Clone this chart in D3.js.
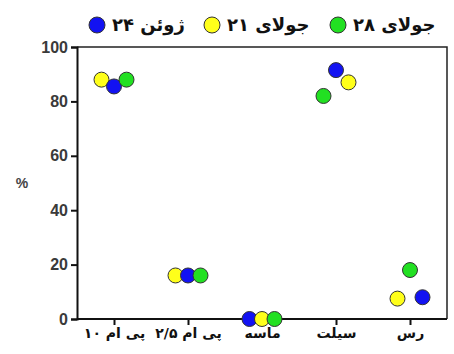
<!DOCTYPE html>
<html><head><meta charset="utf-8">
<script src="https://cdn.jsdelivr.net/npm/d3@7"></script>
<style>body{margin:0;background:#fff;}</style>
</head><body>
<svg id="c" width="454" height="354"></svg>
<script>
const categories = ["پی ام ۱۰", "پی ام ۲/۵", "ماسه", "سیلت", "رس"];
const seriesNames = ["ژوئن ۲۴", "جولای ۲۱", "جولای ۲۸"];
const june24 = [85.5, 16, 0, 91.5, 8];
const july21 = [88, 16, 0, 87, 7.5];
const july28 = [88, 16, 0, 82, 18];
// horizontal slot (left, middle, right) each series occupies within a category
const june24Slot = [1, 1, 0, 1, 2];
const july21Slot = [0, 0, 1, 2, 0];
const july28Slot = [2, 2, 2, 0, 1];
const yTicks = [0, 20, 40, 60, 80, 100];
const colors = ["#1212f2", "#ffff1a", "#22e022"];

const svg = d3.select("#c");
const L = 77, R = 447, T = 47, B = 319;
const x = d3.scalePoint().domain(categories).range([L, R]).padding(0.5);
const slot = d3.scalePoint().domain([0, 1, 2]).range([-12.5, 12.5]);
const y = d3.scaleLinear().domain([0, 100]).range([B, T]);

svg.append("path").attr("d", `M${L},${T}H${R}V${B}`).attr("fill", "none").attr("stroke", "#222").attr("stroke-width", 1.5);

const yAxis = svg.append("g").attr("transform", `translate(${L},0)`)
  .call(d3.axisLeft(y).tickValues(yTicks).tickSize(6).tickPadding(3));
yAxis.select(".domain").attr("stroke", "#111").attr("stroke-width", 2);
yAxis.selectAll(".tick line").attr("stroke", "#111").attr("stroke-width", 2);
yAxis.selectAll("text").attr("font-family", "Liberation Sans, Arial, sans-serif")
  .attr("font-weight", "bold").attr("font-size", 16).attr("fill", "#3a3a3a");

const xAxis = svg.append("g").attr("transform", `translate(0,${B})`)
  .call(d3.axisBottom(x).tickSize(6).tickPadding(3));
xAxis.select(".domain").attr("stroke", "#111").attr("stroke-width", 2)
  .attr("d", `M${L},0H${R}`);
xAxis.selectAll(".tick line").attr("stroke", "#111").attr("stroke-width", 2);
xAxis.selectAll("text").attr("font-family", "DejaVu Sans, sans-serif")
  .attr("font-weight", "bold").attr("font-size", 14).attr("fill", "#111");

svg.append("text").attr("x", 22).attr("y", 188).attr("text-anchor", "middle")
  .attr("font-family", "Liberation Sans, Arial, sans-serif").attr("font-size", 14)
  .attr("font-weight", "bold").attr("fill", "#444").text("%");

const series = [june24, july21, july28];
const slots = [june24Slot, july21Slot, july28Slot];
const pts = [];
series.forEach((vals, s) => vals.forEach((v, i) => pts.push({cat: categories[i], v, s, k: slots[s][i]})));
pts.sort((a, b) => (x(a.cat) + slot(a.k)) - (x(b.cat) + slot(b.k)));
svg.append("g").selectAll("circle").data(pts).join("circle")
  .attr("cx", d => x(d.cat) + slot(d.k)).attr("cy", d => y(d.v)).attr("r", 7.5)
  .attr("fill", d => colors[d.s]).attr("stroke", "#333").attr("stroke-width", 1);

const legX = [97, 212, 338];
const lg = svg.append("g");
seriesNames.forEach((n, i) => {
  lg.append("circle").attr("cx", legX[i]).attr("cy", 25).attr("r", 8)
    .attr("fill", colors[i]).attr("stroke", "#333").attr("stroke-width", 1);
  lg.append("text").attr("x", legX[i] + 15).attr("y", 31)
    .attr("font-family", "DejaVu Sans, sans-serif").attr("font-weight", "bold")
    .attr("font-size", 18).attr("fill", "#111").text(n);
});
</script>
</body></html>
